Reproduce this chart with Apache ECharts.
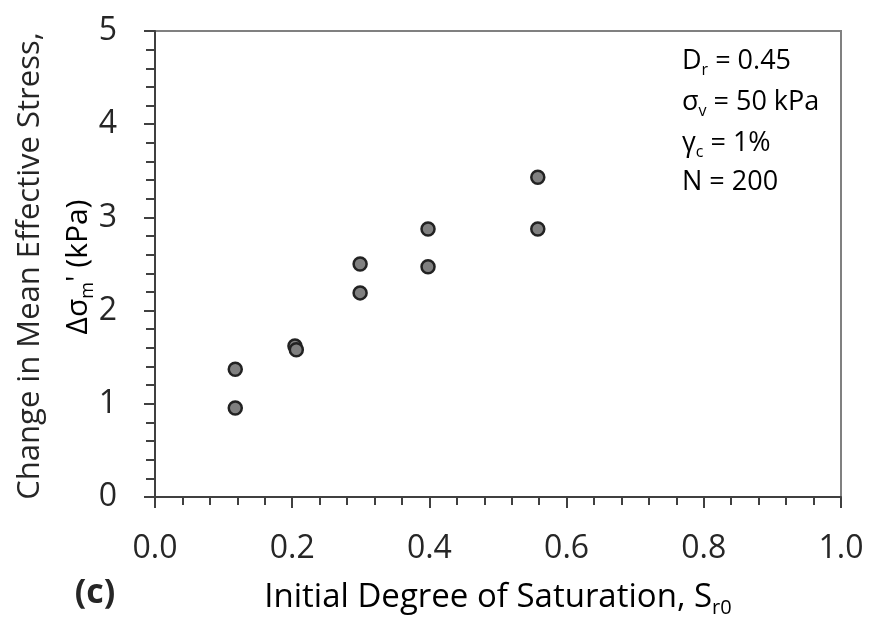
<!DOCTYPE html>
<html><head><meta charset="utf-8">
<script src="https://cdn.jsdelivr.net/npm/echarts@6/dist/echarts.min.js"></script>
<style>html,body{margin:0;padding:0;background:#fff}#c{width:870px;height:623px}</style>
</head><body><div id="c"></div>
<script>
const saturation = [0.117, 0.117, 0.204, 0.206, 0.299, 0.299, 0.398, 0.398, 0.558, 0.558];
const deltaStress = [1.37, 0.955, 1.62, 1.58, 2.50, 2.19, 2.875, 2.47, 3.43, 2.875];
const xTicks = [0.0, 0.2, 0.4, 0.6, 0.8, 1.0];
const yTicks = [0, 1, 2, 3, 4, 5];

const FONT = '"Open Sans"';
const TXT = '#262626';
const chart = echarts.init(document.getElementById('c'));
const points = saturation.map((x, i) => [x, deltaStress[i]]);

const boxBase = {fontSize: 27, fontFamily: FONT, color: TXT, lineHeight: 34};
const boxSub = {fontSize: 16, fontFamily: FONT, color: TXT, verticalAlign: 'bottom', lineHeight: 18};
const xtBase = {fontSize: 33, fontFamily: FONT, color: TXT, lineHeight: 40};
const xtSub = {fontSize: 20, fontFamily: FONT, color: TXT, verticalAlign: 'bottom', lineHeight: 22};
const ytBase = {fontSize: 30, fontFamily: FONT, color: TXT, lineHeight: 38};
const ytSub = {fontSize: 18, fontFamily: FONT, color: TXT, verticalAlign: 'bottom', lineHeight: 21};

function boxLine(text, y) {
  return {type: 'text', x: 682, y: y,
    style: {text: text, rich: {b: boxBase, s: boxSub}, align: 'left', verticalAlign: 'middle'}};
}

chart.setOption({
  animation: false,
  backgroundColor: '#fff',
  grid: {left: 155, right: 29, top: 31, bottom: 126, show: true, borderColor: '#808080', borderWidth: 2},
  xAxis: {
    type: 'value', min: xTicks[0], max: xTicks[xTicks.length - 1], interval: 0.2,
    axisLine: {onZero: false, lineStyle: {color: '#404040', width: 2}},
    axisTick: {show: true, inside: false, length: 11, lineStyle: {color: '#404040', width: 2}},
    minorTick: {show: true, splitNumber: 5, length: 8, lineStyle: {color: '#404040', width: 2}},
    splitLine: {show: false},
    axisLabel: {margin: 36, fontSize: 32, fontFamily: FONT, color: TXT, formatter: v => v.toFixed(1)}
  },
  yAxis: {
    type: 'value', min: yTicks[0], max: yTicks[yTicks.length - 1], interval: 1,
    axisLine: {onZero: false, lineStyle: {color: '#404040', width: 2}},
    axisTick: {show: true, inside: false, length: 11, lineStyle: {color: '#404040', width: 2}},
    minorTick: {show: true, splitNumber: 5, length: 9, lineStyle: {color: '#404040', width: 2}},
    splitLine: {show: false},
    axisLabel: {margin: 38, fontSize: 32, fontFamily: FONT, color: TXT}
  },
  series: [{
    type: 'scatter', data: points, symbol: 'circle', symbolSize: 13,
    itemStyle: {color: '#808080', borderColor: '#222', borderWidth: 2.5, opacity: 1}
  }],
  graphic: [
    boxLine('{b|D}{s|r}{b| = 0.45}', 61),
    boxLine('{b|σ}{s|v}{b| = 50 kPa}', 102),
    boxLine('{b|γ}{s|c}{b| = 1%}', 143),
    boxLine('{b|N = 200}', 182),
    {type: 'text', x: 30, y: 266, rotation: Math.PI / 2,
      style: {text: 'Change in Mean Effective Stress,', fontSize: 31, fontFamily: FONT, fill: TXT, align: 'center', verticalAlign: 'middle'}},
    {type: 'text', x: 78, y: 267, rotation: Math.PI / 2,
      style: {text: "{b|Δσ}{s|m}{b|' (kPa)}", rich: {b: ytBase, s: ytSub}, align: 'center', verticalAlign: 'middle'}},
    {type: 'text', x: 498, y: 598,
      style: {text: '{b|Initial Degree of Saturation, S}{s|r0}', rich: {b: xtBase, s: xtSub}, align: 'center', verticalAlign: 'middle'}},
    {type: 'text', x: 95, y: 593,
      style: {text: '(c)', fontSize: 34, fontWeight: 'bold', fontFamily: FONT, fill: TXT, align: 'center', verticalAlign: 'middle'}}
  ]
});
</script></body></html>
